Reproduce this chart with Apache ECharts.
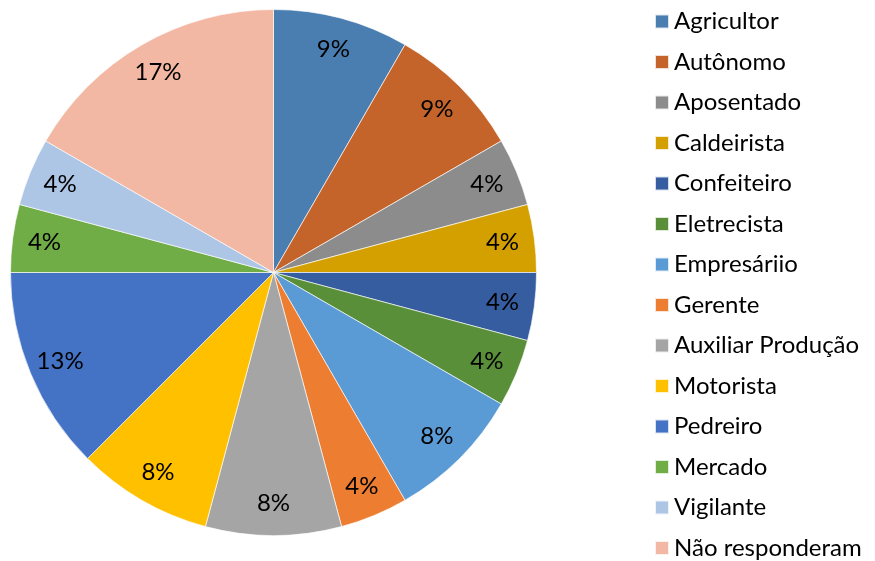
<!DOCTYPE html>
<html>
<head>
<meta charset="utf-8">
<script src="https://cdn.jsdelivr.net/npm/echarts@6/dist/echarts.min.js"></script>
<style>
  html, body { margin: 0; padding: 0; background: #fff; }
  #chart { width: 875px; height: 561px; }
</style>
</head>
<body>
<div id="chart"></div>
<script>
var categories = ['Agricultor', 'Autônomo', 'Aposentado', 'Caldeirista', 'Confeiteiro', 'Eletrecista',
    'Empresáriio', 'Gerente', 'Auxiliar Produção', 'Motorista', 'Pedreiro', 'Mercado', 'Vigilante', 'Não responderam'];
var counts = [2, 2, 1, 1, 1, 1, 2, 1, 2, 2, 3, 1, 1, 4];
var pctLabels = ['9%', '9%', '4%', '4%', '4%', '4%', '8%', '4%', '8%', '8%', '13%', '4%', '4%', '17%'];
var colors = ['#4A7EB1', '#C5642A', '#8C8C8C', '#D4A000', '#355DA0', '#5A8F3A', '#5B9BD5',
    '#ED7D31', '#A5A5A5', '#FFC000', '#4472C4', '#70AD47', '#AEC6E6', '#F3B8A3'];

var font = 'Lato, "Open Sans", sans-serif';
var chart = echarts.init(document.getElementById('chart'));

var pieData = categories.map(function (name, i) {
    return { name: name, value: counts[i], itemStyle: { color: colors[i] } };
});
// label ring: same slices, transparent, only carries the percent text
var labelData = categories.map(function (name, i) {
    return { name: name, value: counts[i] };
});

chart.setOption({
    animation: false,
    color: colors,
    legend: {
        orient: 'vertical',
        left: 654,
        top: 9.5,
        height: 560,
        padding: 0,
        itemWidth: 14,
        itemHeight: 14,
        itemGap: 16.5,
        icon: 'rect',
        selectedMode: false,
        textStyle: { fontFamily: font, fontSize: 24, lineHeight: 24, color: '#000' },
        data: categories
    },
    series: [{
        type: 'pie',
        center: [273.5, 272.5],
        radius: [0, 263],
        startAngle: 90,
        clockwise: true,
        silent: true,
        label: { show: false },
        labelLine: { show: false },
        itemStyle: { borderColor: 'rgba(255,255,255,0.8)', borderWidth: 0.8 },
        data: pieData
    }, {
        type: 'pie',
        center: [273.5, 272.5],
        radius: [193, 263],
        startAngle: 90,
        clockwise: true,
        silent: true,
        itemStyle: { color: 'rgba(0,0,0,0)' },
        label: {
            show: true,
            position: 'inside',
            fontFamily: font,
            fontSize: 24,
            color: '#000',
            formatter: function (p) { return pctLabels[p.dataIndex]; }
        },
        labelLine: { show: false },
        data: labelData
    }]
});
</script>
</body>
</html>
